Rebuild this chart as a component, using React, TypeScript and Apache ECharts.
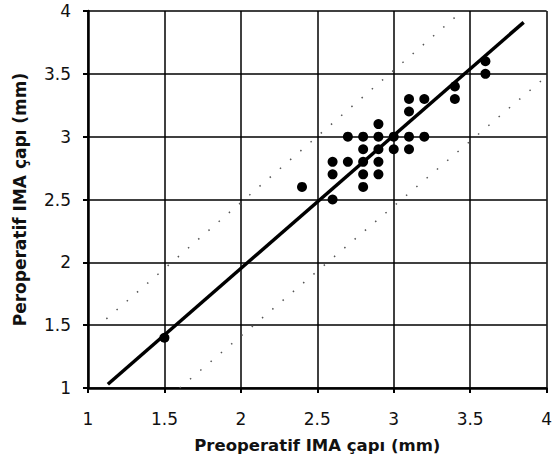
import React, { useEffect, useRef } from "react";
import * as echarts from "echarts";

const preop = [1.5, 2.4, 2.6, 2.6, 2.6, 2.7, 2.7, 2.8, 2.8, 2.8, 2.8, 2.8, 2.9, 2.9, 2.9, 2.9, 2.9, 3.0, 3.0, 3.1, 3.1, 3.1, 3.1, 3.2, 3.2, 3.4, 3.4, 3.6, 3.6];
const perop = [1.4, 2.6, 2.5, 2.7, 2.8, 2.8, 3.0, 2.6, 2.7, 2.8, 2.9, 3.0, 2.7, 2.8, 2.9, 3.0, 3.1, 2.9, 3.0, 2.9, 3.0, 3.2, 3.3, 3.0, 3.3, 3.3, 3.4, 3.5, 3.6];

const fitX = [1.13, 3.85];
const fitY = [1.03, 3.91];
const upperX = [1.12, 3.42];
const upperY = [1.55, 3.97];
const lowerX = [1.6, 3.98];
const lowerY = [1.0, 3.46];

const xTicks = ["1", "1.5", "2", "2.5", "3", "3.5", "4"];
const yTicks = ["1", "1.5", "2", "2.5", "3", "3.5", "4"];

const xName = "Preoperatif IMA çapı (mm)";
const yName = "Peroperatif IMA çapı (mm)";

const zip = (a: number[], b: number[]) => a.map((v, i) => [v, b[i]]);

export default function App() {
  const ref = useRef<HTMLDivElement>(null);
  useEffect(() => {
    if (!ref.current) return;
    const chart = echarts.init(ref.current, undefined, { renderer: "svg" });
    const axisCommon = {
      type: "value" as const,
      min: 1,
      max: 4,
      interval: 0.5,
      nameLocation: "middle" as const,
      axisLine: { show: true, lineStyle: { color: "#000", width: 2.5 } },
      axisTick: { show: true, length: 5, lineStyle: { color: "#000", width: 2 } },
      splitLine: { show: true, lineStyle: { color: "#000", width: 1.5 } },
    };
    chart.setOption({
      animation: false,
      backgroundColor: "#fff",
      grid: { left: 88, right: 4, top: 11, bottom: 85, containLabel: false },
      xAxis: {
        ...axisCommon,
        name: xName,
        nameGap: 49,
        nameTextStyle: { fontFamily: "DejaVu Sans", fontSize: 16.5, fontWeight: "bold", color: "#111" },
        axisLabel: {
          margin: 22,
          fontFamily: "DejaVu Sans",
          fontSize: 17,
          color: "#111",
          formatter: (v: number) => xTicks[Math.round((v - 1) * 2)] ?? "",
        },
      },
      yAxis: {
        ...axisCommon,
        name: yName,
        nameGap: 60,
        nameRotate: 90,
        nameTextStyle: { fontFamily: "DejaVu Sans", fontSize: 17, fontWeight: "bold", color: "#111" },
        axisLabel: {
          margin: 17,
          fontFamily: "DejaVu Sans",
          fontSize: 17,
          color: "#111",
          formatter: (v: number) => yTicks[Math.round((v - 1) * 2)] ?? "",
        },
      },
      series: [
        {
          type: "line",
          data: zip(upperX, upperY),
          symbol: "none",
          lineStyle: { color: "#555", width: 1.5, type: [1.5, 12] },
          silent: true,
        },
        {
          type: "line",
          data: zip(lowerX, lowerY),
          symbol: "none",
          lineStyle: { color: "#555", width: 1.5, type: [1.5, 12] },
          silent: true,
        },
        {
          type: "scatter",
          data: zip(preop, perop),
          symbol: "circle",
          symbolSize: 10,
          itemStyle: { color: "#000", opacity: 1 },
        },
        {
          type: "line",
          data: zip(fitX, fitY),
          symbol: "none",
          lineStyle: { color: "#000", width: 3.5 },
        },
      ],
    });
    return () => chart.dispose();
  }, []);
  return <div ref={ref} style={{ width: 555, height: 473, position: "absolute", left: 0, top: 0 }} />;
}
